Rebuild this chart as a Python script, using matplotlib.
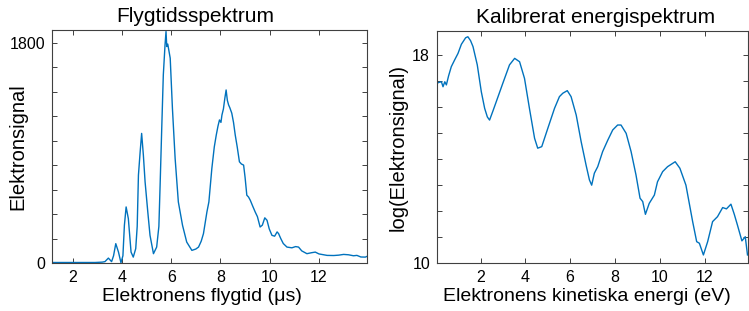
import matplotlib
matplotlib.use("Agg")
import matplotlib.pyplot as plt
from matplotlib.ticker import FixedLocator, NullFormatter

plt.rcParams['font.family'] = ['Liberation Sans', 'DejaVu Sans']

# --- Left: time-of-flight spectrum ---
tof_t = [1.16, 2.91, 3.20, 3.31, 3.45, 3.58, 3.66, 3.75, 3.86, 3.96,
         4.04, 4.10, 4.17, 4.26, 4.37, 4.46, 4.56, 4.62, 4.67, 4.74, 4.80,
         4.87, 4.94, 5.05, 5.14, 5.28, 5.41, 5.50, 5.55, 5.62, 5.68, 5.75,
         5.79, 5.82, 5.86, 5.96, 6.05, 6.16, 6.29, 6.46, 6.63, 6.84, 7.0,
         7.11, 7.22, 7.31, 7.45, 7.53, 7.65, 7.75, 7.83, 7.90, 7.96, 8.02,
         8.06, 8.12, 8.18, 8.23, 8.28, 8.33, 8.38, 8.46, 8.53, 8.6, 8.68,
         8.77, 8.85, 8.94, 9.0, 9.07, 9.14, 9.21, 9.3, 9.41, 9.5, 9.61, 9.7,
         9.8, 9.89, 9.98, 10.09, 10.2, 10.3, 10.36, 10.45, 10.55, 10.7, 10.9,
         11.05, 11.17, 11.3, 11.51, 11.7, 11.85, 12.0, 12.33, 12.6, 12.8,
         13.0, 13.2, 13.4, 13.54, 13.7, 13.88, 13.95]
tof_signal = [5, 5, 8, 12, 41, 12, 60, 159, 90, 3,
              60, 309, 459, 364, 90, 49, 118, 300, 719, 910, 1060,
              883, 664, 418, 227, 77, 131, 300, 637, 1129, 1538, 1784,
              1893, 1770, 1790, 1675, 1265, 855, 500, 309, 172, 104, 115,
              131, 180, 241, 418, 500, 773, 950, 1047, 1120, 1170, 1150,
              1210, 1260, 1350, 1415, 1330, 1293, 1270, 1225, 1150, 1047, 950,
              828, 810, 801, 700, 555, 540, 514, 470, 418, 380, 295, 310,
              370, 350, 280, 227, 220, 255, 241, 200, 160, 131, 125,
              135, 131, 100, 77, 85, 90, 75, 63, 62, 65,
              71, 68, 60, 63, 50, 49, 55]

# --- Right: calibrated energy spectrum ---
ene_e = [0.03, 0.15, 0.25, 0.32, 0.40, 0.47, 0.57, 0.69, 0.84, 0.99, 1.14,
         1.33, 1.43, 1.55, 1.66, 1.85, 2.03, 2.18, 2.30, 2.40, 2.55, 2.70,
         2.99, 3.29, 3.52, 3.74, 3.96, 4.18, 4.41, 4.55, 4.73, 5.0, 5.30,
         5.52, 5.67, 5.87, 6.04, 6.27, 6.49, 6.71, 6.86, 6.96, 7.08, 7.23,
         7.45, 7.68, 7.9, 8.12, 8.27, 8.50, 8.72, 8.94, 9.12, 9.24, 9.36,
         9.53, 9.76, 9.9, 10.13, 10.35, 10.69, 10.90, 11.17, 11.47, 11.65,
         11.77, 11.95, 12.14, 12.36, 12.58, 12.81, 12.98, 13.18, 13.33, 13.47,
         13.67, 13.82, 13.92]
ene_log = [16.91, 16.95, 16.97, 16.78, 16.97, 16.85, 17.2, 17.55, 17.81, 18.06, 18.41,
           18.66, 18.70, 18.55, 18.32, 17.62, 16.59, 15.95, 15.62, 15.5, 15.85, 16.21,
           16.91, 17.62, 17.87, 17.74, 17.1, 15.95, 14.80, 14.42, 14.48, 15.18, 15.95,
           16.4, 16.53, 16.63, 16.40, 15.69, 14.67, 13.77, 13.2, 13.0, 13.46, 13.71,
           14.29, 14.73, 15.12, 15.31, 15.31, 14.99, 14.29, 13.39, 12.50, 12.37, 11.88,
           12.30, 12.62, 13.13, 13.52, 13.71, 13.90, 13.65, 13.0, 11.60, 10.83,
           10.77, 10.32, 10.83, 11.60, 11.79, 12.14, 12.09, 12.27, 11.88, 11.47,
           10.86, 11.02, 10.32]

line_color = '#0072BD'
axis_color = '#404040'

fig = plt.figure(figsize=(7.49, 3.11), dpi=100)
ax1 = fig.add_axes([0.0694, 0.154, 0.4206, 0.7495])
ax2 = fig.add_axes([0.5834, 0.1534, 0.4146, 0.7469])

def style(ax):
    for s in ax.spines.values():
        s.set_color(axis_color)
        s.set_linewidth(0.8)
    ax.tick_params(which='both', direction='in', top=True, right=True,
                   color=axis_color, labelsize=11.5, length=3.5, width=0.7,
                   labelcolor='black', pad=5)

ax1.plot(tof_t, tof_signal, color=line_color, lw=1.0)
ax1.set_xlim(1.16, 13.95)
ax1.set_ylim(0, 1905)
ax1.set_xticks([2, 4, 6, 8, 10, 12])
ax1.set_yticks([0, 1800])
ax1.yaxis.set_minor_locator(FixedLocator(list(range(200, 1800, 200))))
ax1.yaxis.set_minor_formatter(NullFormatter())
style(ax1)
ax1.set_title('Flygtidsspektrum', fontsize=15, pad=6, x=0.454)
ax1.set_xlabel('Elektronens flygtid (\u03bcs)', fontsize=14, labelpad=2)
ax1.xaxis.label.set_x(0.475)
ax1.set_ylabel('Elektronsignal', fontsize=14.5)
ax1.yaxis.set_label_coords(-0.079, 0.5)

ax2.plot(ene_e, ene_log, color=line_color, lw=1.0)
ax2.set_xlim(0.05, 13.92)
ax2.set_ylim(10, 18.92)
ax2.set_xticks([2, 4, 6, 8, 10, 12])
ax2.set_yticks([10, 18])
ax2.yaxis.set_minor_locator(FixedLocator(list(range(11, 18))))
ax2.yaxis.set_minor_formatter(NullFormatter())
style(ax2)
ax2.set_title('Kalibrerat energispektrum', fontsize=15, pad=6, x=0.51)
ax2.set_xlabel('Elektronens kinetiska energi (eV)', fontsize=14, labelpad=2)
ax2.xaxis.label.set_x(0.483)
ax2.set_ylabel('log(Elektronsignal)', fontsize=14.5)
ax2.yaxis.set_label_coords(-0.094, 0.5)

fig.savefig('out.png', dpi=100)
